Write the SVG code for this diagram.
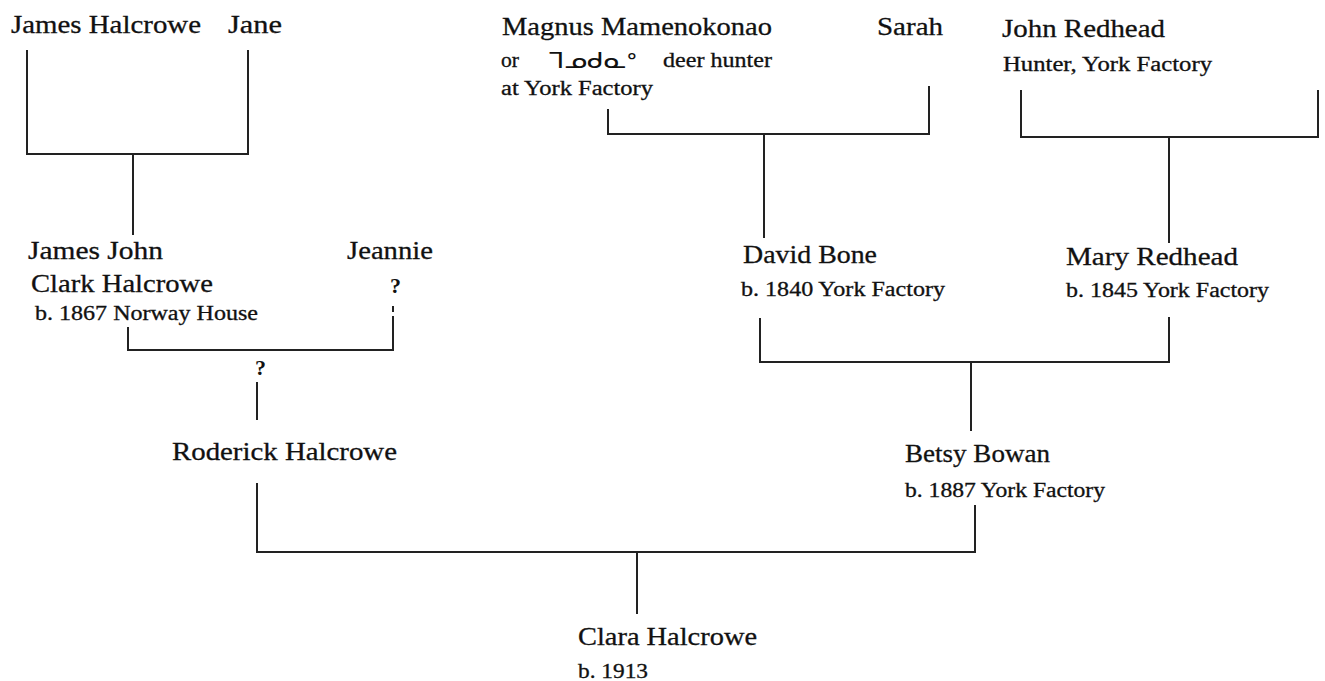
<svg xmlns="http://www.w3.org/2000/svg" width="1325" height="681" viewBox="0 0 1325 681">
  <style>
    .name { font-family: "Liberation Serif", "Times New Roman", serif; font-size: 26px; fill: #111; stroke: #111; stroke-width: 0.3; }
    .note { font-family: "Liberation Serif", "Times New Roman", serif; font-size: 20px; fill: #111; stroke: #111; stroke-width: 0.3; }
    .mark { font-family: "Liberation Serif", "Times New Roman", serif; font-size: 22px; font-weight: bold; fill: #111; }
    .syl { font-family: "DejaVu Sans", sans-serif; font-size: 22px; fill: #111; }
    .link { fill: none; stroke: #222; stroke-width: 2; }
  </style>
  <rect width="1325" height="681" fill="#ffffff"/>

  <!-- family connectors -->
  <g id="connectors">
    <path class="link" d="M27 50 V154 H248 V50"/>
    <path class="link" d="M133 154 V235"/>
    <path class="link" d="M128 327 V350 H393 V316"/>
    <path class="link" d="M393 306 V312"/>
    <path class="link" d="M257 382 V420"/>
    <path class="link" d="M608 109 V134 H929 V86"/>
    <path class="link" d="M764 134 V238"/>
    <path class="link" d="M1021 90 V137 H1318 V90"/>
    <path class="link" d="M1169 137 V243"/>
    <path class="link" d="M760 318 V362 H1169 V317"/>
    <path class="link" d="M971 362 V431"/>
    <path class="link" d="M257 483 V552 H975 V505"/>
    <path class="link" d="M637 552 V614"/>
  </g>

  <g id="james-halcrowe">
    <text class="name" x="11" y="33" textLength="190" lengthAdjust="spacingAndGlyphs">James Halcrowe</text>
  </g>
  <g id="jane">
    <text class="name" x="228" y="33" textLength="54" lengthAdjust="spacingAndGlyphs">Jane</text>
  </g>

  <g id="magnus-mamenokonao">
    <text class="name" x="502" y="35" textLength="270" lengthAdjust="spacingAndGlyphs">Magnus Mamenokonao</text>
    <text class="note" x="501" y="67" textLength="18" lengthAdjust="spacingAndGlyphs">or</text>
    <text class="syl" x="548" y="68" textLength="89" lengthAdjust="spacingAndGlyphs">ᒣᓄᑯᓇᐤ</text>
    <text class="note" x="663" y="67" textLength="109" lengthAdjust="spacingAndGlyphs">deer hunter</text>
    <text class="note" x="501" y="95" textLength="152" lengthAdjust="spacingAndGlyphs">at York Factory</text>
  </g>
  <g id="sarah">
    <text class="name" x="877" y="35" textLength="66" lengthAdjust="spacingAndGlyphs">Sarah</text>
  </g>

  <g id="john-redhead">
    <text class="name" x="1002" y="37" textLength="163" lengthAdjust="spacingAndGlyphs">John Redhead</text>
    <text class="note" x="1003" y="71" textLength="209" lengthAdjust="spacingAndGlyphs">Hunter, York Factory</text>
  </g>

  <g id="james-john-clark-halcrowe">
    <text class="name" x="28" y="259" textLength="135" lengthAdjust="spacingAndGlyphs">James John</text>
    <text class="name" x="31" y="292" textLength="182" lengthAdjust="spacingAndGlyphs">Clark Halcrowe</text>
    <text class="note" x="35" y="320" textLength="223" lengthAdjust="spacingAndGlyphs">b. 1867 Norway House</text>
  </g>
  <g id="jeannie">
    <text class="name" x="347" y="259" textLength="86" lengthAdjust="spacingAndGlyphs">Jeannie</text>
    <text class="mark" x="390" y="293">?</text>
  </g>

  <g id="david-bone">
    <text class="name" x="743" y="263" textLength="134" lengthAdjust="spacingAndGlyphs">David Bone</text>
    <text class="note" x="741" y="296" textLength="204" lengthAdjust="spacingAndGlyphs">b. 1840 York Factory</text>
  </g>
  <g id="mary-redhead">
    <text class="name" x="1066" y="265" textLength="172" lengthAdjust="spacingAndGlyphs">Mary Redhead</text>
    <text class="note" x="1066" y="297" textLength="203" lengthAdjust="spacingAndGlyphs">b. 1845 York Factory</text>
  </g>

  <g id="roderick-halcrowe">
    <text class="mark" x="255" y="375">?</text>
    <text class="name" x="172" y="460" textLength="225" lengthAdjust="spacingAndGlyphs">Roderick Halcrowe</text>
  </g>

  <g id="betsy-bowan">
    <text class="name" x="905" y="462" textLength="145" lengthAdjust="spacingAndGlyphs">Betsy Bowan</text>
    <text class="note" x="905" y="497" textLength="200" lengthAdjust="spacingAndGlyphs">b. 1887 York Factory</text>
  </g>

  <g id="clara-halcrowe">
    <text class="name" x="578" y="645" textLength="179" lengthAdjust="spacingAndGlyphs">Clara Halcrowe</text>
    <text class="note" x="578" y="678" textLength="70" lengthAdjust="spacingAndGlyphs">b. 1913</text>
  </g>
</svg>
